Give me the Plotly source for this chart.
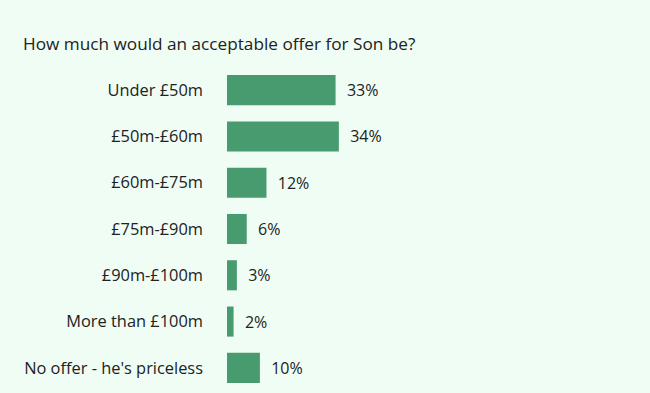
import plotly.graph_objects as go

categories = ["Under £50m", "£50m-£60m", "£60m-£75m", "£75m-£90m",
              "£90m-£100m", "More than £100m", "No offer - he's priceless"]
values = [33, 34, 12, 6, 3, 2, 10]
value_labels = [f"&nbsp;&nbsp;{v}%" for v in values]

BG = "#effdf5"
BAR = "#479b6e"
TXT = "#222222"

fig = go.Figure(go.Bar(
    y=categories, x=values, orientation="h",
    marker=dict(color=BAR, line=dict(width=0)),
    width=0.65,
    text=value_labels, textposition="outside",
    textfont=dict(family="Open Sans", size=16, color=TXT),
    cliponaxis=False, hoverinfo="skip",
))

fig.update_layout(
    width=650, height=393,
    paper_bgcolor=BG, plot_bgcolor=BG,
    margin=dict(l=227, r=94, t=67, b=2),
    showlegend=False,
    title=dict(text="How much would an acceptable offer for Son be?",
               x=23 / 650, xanchor="left", xref="container",
               y=1 - 44 / 393, yanchor="middle", yref="container",
               font=dict(family="Open Sans", size=17.2, color=TXT)),
    font=dict(family="Open Sans", color=TXT),
)
fig.update_xaxes(range=[0, 100], visible=False, fixedrange=True)
fig.update_yaxes(autorange="reversed", showgrid=False, zeroline=False,
                 showline=False, ticks="", ticklabelstandoff=23,
                 tickfont=dict(family="Open Sans", size=16.4, color=TXT))

fig.write_html(
    "out.html",
    config={"displayModeBar": False},
    post_script="document.body.style.margin='0';document.body.style.overflow='hidden';document.body.style.background='" + BG + "';",
)
